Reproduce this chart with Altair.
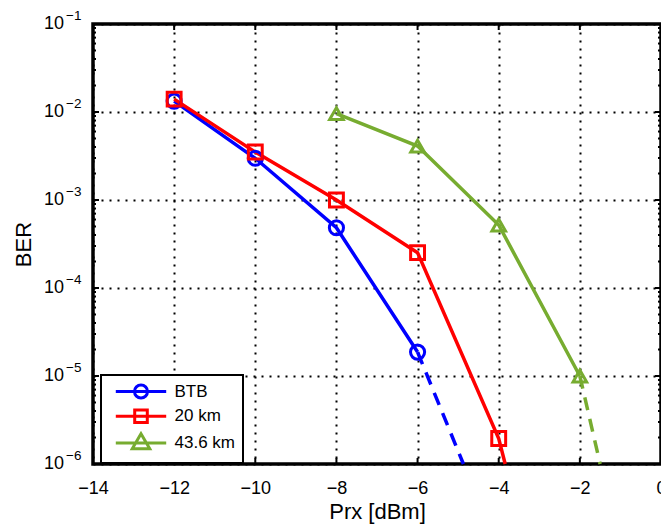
import altair as alt
import pandas as pd

FONT = "Liberation Sans"

series_names = ["BTB", "20 km", "43.6 km"]
series_colors = ["#0000FF", "#FF0000", "#77AC30"]
series_shapes = ["circle", "square", "triangle-up"]
marker_sizes = [200, 185, 270]

btb_prx = [-12, -10, -8, -6]
btb_ber = [1.33e-2, 2.98e-3, 4.84e-4, 1.87e-5]
km20_prx = [-12, -10, -8, -6, -4]
km20_ber = [1.40e-2, 3.51e-3, 1.0e-3, 2.52e-4, 1.95e-6]
km436_prx = [-8, -6, -4, -2]
km436_ber = [9.6e-3, 4.1e-3, 5.2e-4, 1.0e-5]

# continuation of each curve down to the bottom of the axes
btb_tail_prx = [-6, -4.87]
btb_tail_ber = [1.87e-5, 1e-6]
km20_tail_prx = [-4, -3.84]
km20_tail_ber = [1.95e-6, 1e-6]
km436_tail_prx = [-2, -1.5]
km436_tail_ber = [1.0e-5, 1e-6]

x_ticks = [-14, -12, -10, -8, -6, -4, -2, 0]
y_decades = [1e-1, 1e-2, 1e-3, 1e-4, 1e-5, 1e-6]
y_exponents = ["\u22121", "\u22122", "\u22123", "\u22124", "\u22125", "\u22126"]
y_minor = [m * d for d in [1e-6, 1e-5, 1e-4, 1e-3, 1e-2] for m in range(2, 10)]

# legend symbols: line with marker (MATLAB style)
legend_paths = [
    "M-3.6,0L3.6,0M0.93,0A0.93,0.93,0,1,1,-0.93,0A0.93,0.93,0,1,1,0.93,0Z",
    "M-3.6,0L3.6,0M-0.9,-0.9L0.9,-0.9L0.9,0.9L-0.9,0.9Z",
    "M-3.6,0L3.6,0M0,-1.3L1.25,0.85L-1.25,0.85Z",
]

W, H = 568, 440

def rows(name, xs, ys):
    return [{"series": name, "prx": x, "ber": y} for x, y in zip(xs, ys)]

markers = pd.DataFrame(rows("BTB", btb_prx, btb_ber) + rows("20 km", km20_prx, km20_ber)
                       + rows("43.6 km", km436_prx, km436_ber))
lines = pd.DataFrame(rows("BTB", btb_prx, btb_ber)
                     + rows("20 km", km20_prx + km20_tail_prx[1:], km20_ber + km20_tail_ber[1:])
                     + rows("43.6 km", km436_prx, km436_ber))
tails = pd.DataFrame(rows("BTB", btb_tail_prx, btb_tail_ber) + rows("43.6 km", km436_tail_prx, km436_tail_ber))
xticks_df = pd.DataFrame({"prx": x_ticks[1:-1]})
ymajor_df = pd.DataFrame({"ber": y_decades[1:-1]})
yminor_df = pd.DataFrame({"ber": y_minor})
ylab_df = pd.DataFrame({"ber": y_decades, "base": ["10"] * len(y_decades), "exp": y_exponents})

x_scale = alt.Scale(domain=[-14, 0], nice=False, zero=False)
y_scale = alt.Scale(type="log", domain=[1e-6, 1e-1], nice=False)
color_scale = alt.Scale(domain=series_names, range=series_colors)

x_axis = alt.Axis(values=x_ticks, grid=True, ticks=False, tickSize=0, domain=False,
                  labelFontSize=18, labelFont=FONT, labelColor="black", labelPadding=15,
                  labelFlush=False, labelOverlap=False,
                  title="Prx [dBm]", titleFontSize=22, titleFont=FONT, titleColor="black",
                  titleFontWeight="normal", titlePadding=4,
                  gridColor="black", gridDash=[2, 6], gridWidth=2, gridOpacity=1)
y_axis = alt.Axis(values=y_decades, grid=True, ticks=False, tickSize=0, domain=False, labels=False,
                  title="BER", titleFontSize=22, titleFont=FONT, titleColor="black",
                  titleFontWeight="normal", titlePadding=58,
                  gridColor="black", gridDash=[2, 6], gridWidth=2, gridOpacity=1)

X = lambda: alt.X("prx:Q", scale=x_scale, axis=x_axis)
Y = lambda: alt.Y("ber:Q", scale=y_scale, axis=y_axis)

line_layer = alt.Chart(lines).mark_line(strokeWidth=3.5).encode(
    x=X(), y=Y(),
    color=alt.Color("series:N", scale=color_scale, legend=None),
    detail="series:N",
)
tail_layer = alt.Chart(tails).mark_line(strokeWidth=3.5, strokeDash=[13, 9]).encode(
    x=X(), y=Y(),
    color=alt.Color("series:N", scale=color_scale, legend=None),
    detail="series:N",
)
point_layer = alt.Chart(markers).mark_point(filled=False, strokeWidth=3, opacity=1).encode(
    x=X(), y=Y(),
    color=alt.Color("series:N", scale=color_scale, legend=None),
    shape=alt.Shape("series:N", scale=alt.Scale(domain=series_names, range=series_shapes), legend=None),
    size=alt.Size("series:N", scale=alt.Scale(domain=series_names, range=marker_sizes), legend=None),
)
legend = alt.Legend(title=None, orient="none", legendX=8, legendY=351,
                    labelFont=FONT, labelFontSize=17, labelColor="black",
                    labelExpr="datum.label + '\u00a0\u00a0\u00a0\u00a0\u00a0\u00a0\u00a0\u00a0\u00a0\u00a0'",
                    symbolSize=196, symbolStrokeWidth=3, symbolOffset=23.5, labelOffset=25,
                    padding=8, rowPadding=-1.3, strokeColor="black", fillColor="white",
                    symbolOpacity=1)
legend_layer = alt.Chart(markers).transform_filter("false").mark_point(filled=False, strokeWidth=3).encode(
    x=X(), y=Y(),
    color=alt.Color("series:N", scale=color_scale, legend=legend),
    shape=alt.Shape("series:N", scale=alt.Scale(domain=series_names, range=legend_paths), legend=legend),
)

tick_kw = dict(color="black", strokeWidth=2)
bottom_ticks = alt.Chart(xticks_df).mark_rule(**tick_kw).encode(x=X(), y=alt.value(H), y2=alt.value(H - 6))
top_ticks = alt.Chart(xticks_df).mark_rule(**tick_kw).encode(x=X(), y=alt.value(0), y2=alt.value(6))
left_major = alt.Chart(ymajor_df).mark_rule(**tick_kw).encode(y=Y(), x=alt.value(0), x2=alt.value(6))
right_major = alt.Chart(ymajor_df).mark_rule(**tick_kw).encode(y=Y(), x=alt.value(W), x2=alt.value(W - 6))
left_minor = alt.Chart(yminor_df).mark_rule(**tick_kw).encode(y=Y(), x=alt.value(0), x2=alt.value(3))
right_minor = alt.Chart(yminor_df).mark_rule(**tick_kw).encode(y=Y(), x=alt.value(W), x2=alt.value(W - 3))

ylab_base = alt.Chart(ylab_df).mark_text(align="right", baseline="middle", font=FONT,
                                         fontSize=18, color="black").encode(
    y=Y(), x=alt.value(-29), text="base:N")
ylab_exp = alt.Chart(ylab_df).mark_text(align="left", baseline="middle", font=FONT,
                                        fontSize=13.5, color="black", dy=-8.5).encode(
    y=Y(), x=alt.value(-27), text="exp:N")

chart = alt.layer(
    line_layer, tail_layer, point_layer, legend_layer,
    bottom_ticks, top_ticks, left_major, right_major, left_minor, right_minor,
    ylab_base, ylab_exp,
).resolve_scale(
    color="independent", shape="independent", size="independent"
).properties(
    width=W, height=H, background="white",
    padding={"left": 85, "top": 16, "right": 0, "bottom": 60},
    autosize=alt.AutoSizeParams(type="none"),
).configure_view(
    stroke="black", strokeWidth=3.5
).configure_legend(strokeWidth=2)

chart.save("out.html", embed_options={"renderer": "svg", "actions": False})
